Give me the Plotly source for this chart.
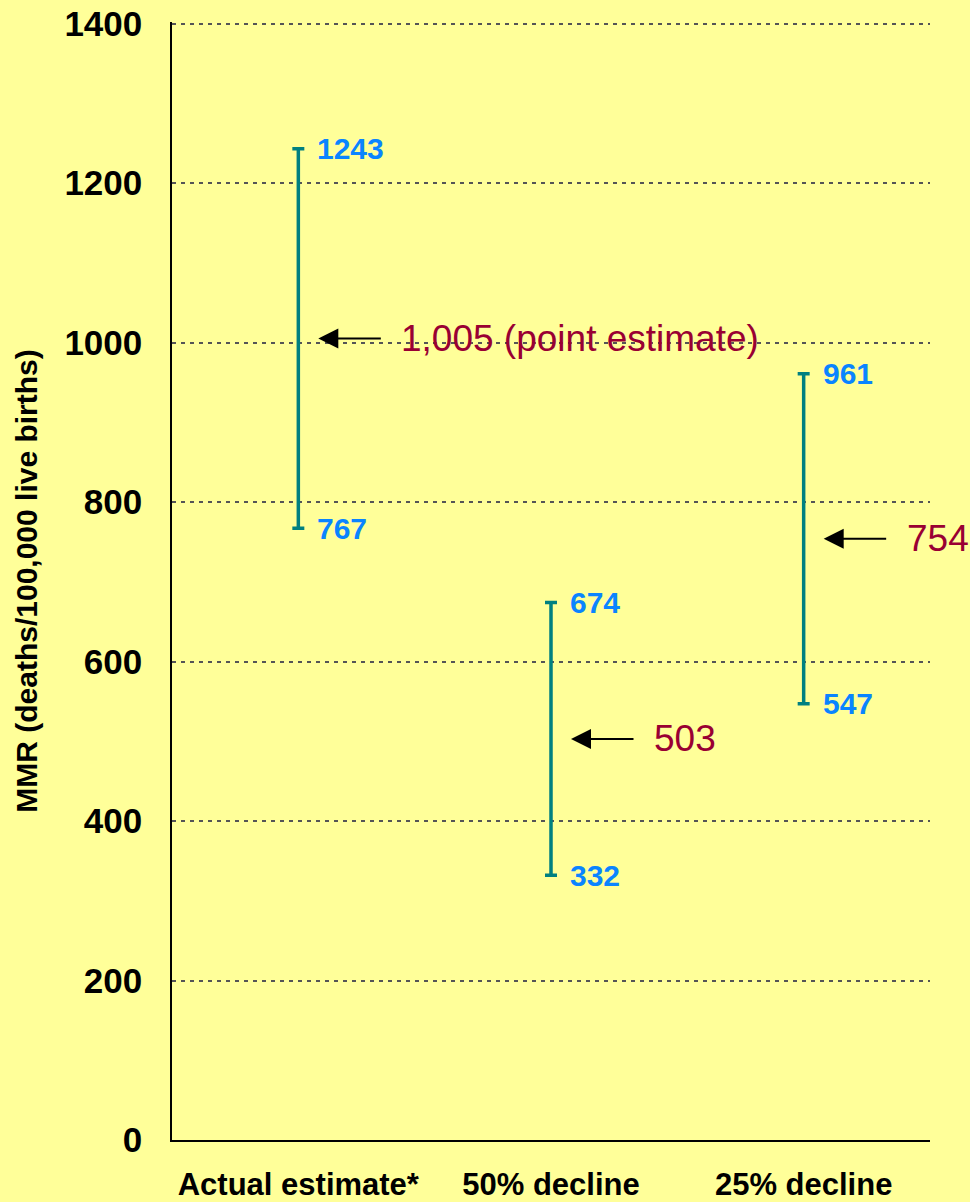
import plotly.graph_objects as go

categories = ["Actual estimate*", "50% decline", "25% decline"]
point_estimates = [1005, 503, 754]
lower_bounds = [767, 332, 547]
upper_bounds = [1243, 674, 961]
point_suffix = [" (point estimate)", "", ""]
y_ticks = [0, 200, 400, 600, 800, 1000, 1200, 1400]
y_title = "MMR (deaths/100,000 live births)"

BG = "#FFFF99"
TEAL = "#008080"
BLUE = "#0A84FF"
MAROON = "#990033"
FONT = "Liberation Sans, Arial, sans-serif"

fig = go.Figure()
fig.add_trace(go.Scatter(
    x=categories,
    y=point_estimates,
    mode="markers",
    marker=dict(size=1, color="rgba(0,0,0,0)"),
    error_y=dict(
        type="data",
        symmetric=False,
        array=[u - p for u, p in zip(upper_bounds, point_estimates)],
        arrayminus=[p - l for p, l in zip(point_estimates, lower_bounds)],
        color=TEAL,
        thickness=3.5,
        width=6,
    ),
    hoverinfo="skip",
    showlegend=False,
))

annotations = []
for cat, lo, hi, p, suf in zip(categories, lower_bounds, upper_bounds, point_estimates, point_suffix):
    for v in (lo, hi):
        annotations.append(dict(
            x=cat, y=v, text=str(v), showarrow=False, xanchor="left", yanchor="middle",
            xshift=17, font=dict(family=FONT, size=30, color=BLUE, weight="bold"),
        ))
    annotations.append(dict(
        x=cat, y=p, text=" ", showarrow=True, xshift=20, ax=64, ay=0,
        arrowhead=2, arrowsize=2, arrowwidth=2, arrowcolor="black", standoff=0,
        font=dict(size=1),
    ))
    annotations.append(dict(
        x=cat, y=p, text=f"{p:,}{suf}", showarrow=False, xanchor="left", yanchor="middle",
        xshift=101, font=dict(family=FONT, size=37, color=MAROON),
    ))

fig.update_layout(
    width=970, height=1202,
    paper_bgcolor=BG, plot_bgcolor=BG,
    margin=dict(l=172, r=40, t=22, b=62, autoexpand=False),
    annotations=annotations,
    xaxis=dict(
        type="category", range=[-0.5, 2.5], showgrid=False, zeroline=False,
        showline=True, linecolor="black", linewidth=1.5, ticks="",
        tickfont=dict(family=FONT, size=31, color="black", weight="bold"),
        ticklabelstandoff=16, automargin=False,
    ),
    yaxis=dict(
        range=[0, 1402], tickvals=y_ticks, showgrid=True, gridcolor="#555555",
        gridwidth=2, griddash="4px,5px", zeroline=False,
        showline=True, linecolor="black", linewidth=1.5, ticks="",
        tickfont=dict(family=FONT, size=35, color="black", weight="bold"),
        ticklabelstandoff=21, automargin=False,
        title=dict(text=y_title, standoff=18,
                   font=dict(family=FONT, size=30, color="black", weight="bold")),
    ),
    hovermode=False,
)

fig.write_html(
    "out.html",
    config={"displayModeBar": False},
    post_script="document.body.style.margin='0';document.body.style.padding='0';"
                "document.body.style.background='#FFFF99';"
                "document.documentElement.style.overflow='hidden';",
)
